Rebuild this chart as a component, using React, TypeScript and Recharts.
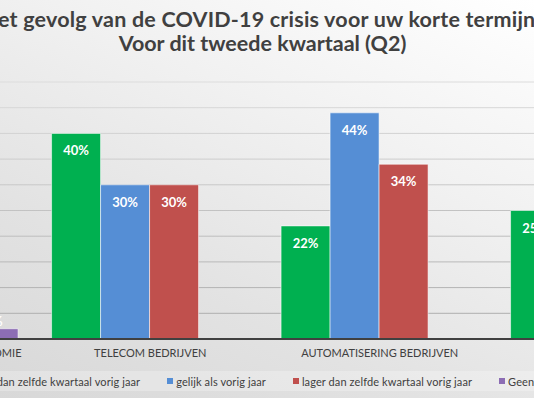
import { BarChart, Bar, XAxis, YAxis, CartesianGrid, Legend, LabelList } from 'recharts';

// categories (first and last are mostly outside the visible crop)
const categories = ['HORECA EN DE CREATIEVE ECONOMIE', 'TELECOM BEDRIJVEN', 'AUTOMATISERING BEDRIJVEN', 'OVERIGE BEDRIJVEN'];
const hoger = [20, 40, 22, 25];
const gelijk = [38, 30, 44, 45];
const lager = [40, 30, 34, 30];
const geen = [2, 0, 0, 0];
const yTicks = [0, 5, 10, 15, 20, 25, 30, 35, 40, 45, 50];

const series = [
  { key: 'hoger', name: 'hoger dan zelfde kwartaal vorig jaar', color: '#00b050', values: hoger },
  { key: 'gelijk', name: 'gelijk als vorig jaar', color: '#558ed5', values: gelijk },
  { key: 'lager', name: 'lager dan zelfde kwartaal vorig jaar', color: '#c0504d', values: lager },
  { key: 'geen', name: 'Geen mening', color: '#8c6db4', values: geen },
];

const data = categories.map((name, i) => {
  const row: any = { name };
  series.forEach(s => { row[s.key] = s.values[i]; });
  return row;
});

const font = 'Lato, "Open Sans", sans-serif';

const BarLabel = (p: any) => {
  const { x, y, width, height, value } = p;
  if (!value) return null;
  const ty = height > 20 ? y + 17 : y - 8;
  return (
    <text x={x + width / 2} y={ty} textAnchor='middle' dominantBaseline='central'
      fill='#ffffff' fontSize={13} fontWeight={700} fontFamily={font}>{`${value}%`}</text>
  );
};

const LegendContent = (p: any) => {
  const items = series.map(s => p.payload.find((e: any) => e.dataKey === s.key)).filter(Boolean);
  return (
    <div style={{ display: 'flex', justifyContent: 'center', alignItems: 'center', height: 20,
      fontFamily: font, fontSize: 11, letterSpacing: 0.1, color: '#404040', whiteSpace: 'nowrap' }}>
      {items.map((e: any, i: number) => (
        <span key={i} style={{ display: 'flex', alignItems: 'center', marginRight: i < 3 ? 27 : 0 }}>
          <span style={{ width: 6, height: 6, background: e.color, marginRight: 3, display: 'inline-block' }} />
          {e.value}
        </span>
      ))}
    </div>
  );
};

export default function App() {
  return (
    <div style={{ position: 'absolute', left: 0, top: 0, width: 534, height: 398, overflow: 'hidden',
      background: 'linear-gradient(205deg, #ffffff 0%, #f1f1f1 35%, #e2e2e2 70%, #d8d8d8 100%)' }}>
      <div style={{ position: 'absolute', left: -200, width: 925, top: 7, textAlign: 'center',
        fontFamily: font, fontWeight: 700, fontSize: 21.5, color: '#404040', lineHeight: '24px' }}>
        <div style={{ letterSpacing: 0.2, marginLeft: -8 }}>Het gevolg van de COVID-19 crisis voor uw korte termijn</div>
        <div>Voor dit tweede kwartaal (Q2)</div>
      </div>
      <div style={{ position: 'absolute', left: -194, top: 0 }}>
        <BarChart width={918} height={398} data={data} barCategoryGap='7%' barGap={0}
          margin={{ top: 82, right: 0, left: 0, bottom: 29 }}>
          <defs>
            <linearGradient id='gridGrad' gradientUnits='userSpaceOnUse' x1='0' y1='82' x2='0' y2='339'>
              <stop offset='0%' stopColor='#dcdcdc' />
              <stop offset='100%' stopColor='#a9a9a9' />
            </linearGradient>
          </defs>
          <CartesianGrid vertical={false} stroke='url(#gridGrad)' />
          <YAxis hide domain={[0, 50]} ticks={yTicks} />
          <XAxis dataKey='name' height={30} tickLine={false} tickMargin={4}
            axisLine={{ stroke: '#404040', strokeWidth: 2 }}
            tick={{ fontSize: 11, fill: '#404040', fontFamily: font }} interval={0} />
          <Legend layout='horizontal' verticalAlign='middle' align='center'
            wrapperStyle={{ left: 0, top: 371, width: 918, height: 20, background: 'rgba(255,255,255,0.25)' }}
            content={LegendContent} />
          {series.map(s => (
            <Bar key={s.key} dataKey={s.key} name={s.name} fill={s.color}
              stroke='rgba(255,255,255,0.55)' strokeWidth={1} isAnimationActive={false}>
              <LabelList dataKey={s.key} content={BarLabel} />
            </Bar>
          ))}
        </BarChart>
      </div>
    </div>
  );
}
